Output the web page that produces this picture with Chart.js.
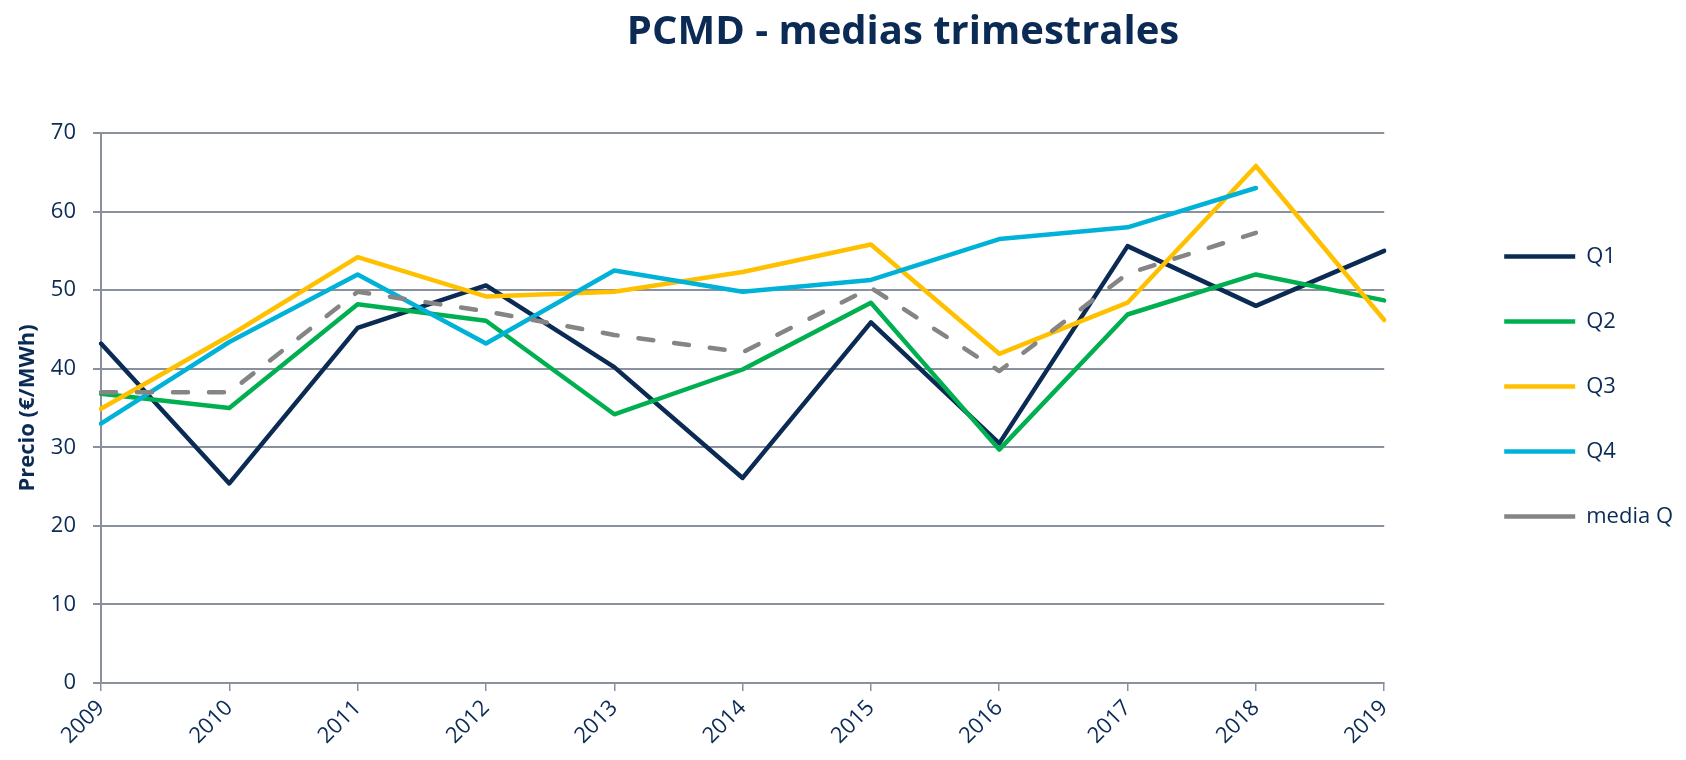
<!DOCTYPE html>
<html>
<head>
<meta charset="utf-8">
<script src="https://cdn.jsdelivr.net/npm/chart.js@4.4.1/dist/chart.umd.min.js"></script>
<style>
  body { margin: 0; background: #fff; }
  #wrap { width: 1686px; height: 760px; position: relative; }
</style>
</head>
<body>
<div id="wrap"><canvas id="pcmd"></canvas></div>
<script>
// years on the x axis
const years = ['2009', '2010', '2011', '2012', '2013', '2014', '2015', '2016', '2017', '2018', '2019'];

// quarterly averages, €/MWh
const q1 = [43.2, 25.4, 45.2, 50.6, 40.2, 26.1, 45.9, 30.5, 55.6, 48.0, 55.0];
const q2 = [36.8, 35.0, 48.2, 46.1, 34.2, 39.9, 48.4, 29.7, 46.9, 52.0, 48.7];
const q3 = [34.9, 44.2, 54.2, 49.2, 49.8, 52.3, 55.8, 41.9, 48.4, 65.8, 46.2];
const q4 = [33.0, 43.4, 52.0, 43.2, 52.5, 49.8, 51.3, 56.5, 58.0, 63.0, null];
const mediaQ = [37.0, 37.0, 49.8, 47.3, 44.3, 42.1, 50.3, 39.7, 52.1, 57.3, null];

const yTicks = [0, 10, 20, 30, 40, 50, 60, 70];

const titleText = 'PCMD - medias trimestrales';
const yTitle = 'Precio (€/MWh)';

const navy = '#0b2b55';
const gridGrey = '#8b919c';
const fontFam = '"Open Sans", "DejaVu Sans", sans-serif';

function serie(label, values, color, order) {
    return {
        label: label,
        data: values,
        borderColor: color,
        backgroundColor: color,
        borderWidth: 4.5,
        pointRadius: 0,
        pointHoverRadius: 0,
        tension: 0,
        fill: false,
        borderJoinStyle: 'round',
        borderCapStyle: 'round',
        order: order
    }
}

const media = serie('media Q', mediaQ, '#858585', 0);
media.borderDash = [15, 21];

// title drawn over the space the empty top axis keeps free
const titlePlugin = {
    id: 'pcmdTitle',
    afterDraw(chart) {
        const ctx = chart.ctx;
        ctx.save();
        ctx.font = 'bold 40px ' + fontFam;
        ctx.fillStyle = navy;
        ctx.textAlign = 'center';
        ctx.textBaseline = 'middle';
        ctx.fillText(titleText, 903, 33);
        ctx.restore();
    }
};

const config = {
    type: 'line',
    data: {
        labels: years,
        datasets: [
            serie('Q1', q1, '#0b2b55', 4),
            serie('Q2', q2, '#00b050', 3),
            serie('Q3', q3, '#ffc000', 2),
            serie('Q4', q4, '#00b2d8', 1),
            media
        ]
    },
    options: {
        responsive: true,
        maintainAspectRatio: false,
        animation: false,
        layout: { padding: { left: 0, right: 3, top: 13, bottom: 0 } },
        plugins: {
            title: { display: false },
            tooltip: { enabled: false },
            legend: {
                position: 'right',
                align: 'center',
                labels: {
                    usePointStyle: true,
                    pointStyle: 'line',
                    pointStyleWidth: 71,
                    padding: 43,
                    color: navy,
                    font: { family: fontFam, size: 22 },
                    sort: (a, b) => a.datasetIndex - b.datasetIndex
                }
            }
        },
        scales: {
            x: {
                type: 'category',
                offset: false,
                grid: {
                    display: true,
                    drawOnChartArea: false,
                    drawTicks: true,
                    tickLength: 8,
                    color: gridGrey,
                    lineWidth: 1.5
                },
                border: { display: true, color: gridGrey, width: 2 },
                ticks: {
                    color: navy,
                    font: { family: fontFam, size: 22 },
                    minRotation: 45,
                    maxRotation: 45,
                    padding: 4,
                    autoSkip: false
                },
                afterFit: s => { s.height = 77; }
            },
            xTop: {
                type: 'category',
                position: 'top',
                display: true,
                grid: { display: false },
                border: { display: false },
                ticks: { display: false },
                afterFit: s => { s.height = 120; }
            },
            y: {
                min: 0,
                max: 70,
                afterBuildTicks: s => { s.ticks = yTicks.map(v => ({ value: v })); },
                grid: {
                    color: gridGrey,
                    lineWidth: 2,
                    tickLength: 8,
                    drawTicks: true
                },
                border: { display: true, color: gridGrey, width: 2 },
                ticks: {
                    color: navy,
                    font: { family: fontFam, size: 22 },
                    padding: 17
                },
                title: {
                    display: true,
                    text: yTitle,
                    color: navy,
                    font: { family: fontFam, size: 22, weight: 'bold' },
                    padding: { top: 15, bottom: 0 }
                },
                afterFit: s => { s.width = 101; }
            },
            yRight: {
                type: 'linear',
                position: 'right',
                display: true,
                grid: { display: false },
                border: { display: false },
                ticks: { display: false },
                afterFit: s => { s.width = 77; }
            }
        }
    },
    plugins: [titlePlugin]
};

new Chart(document.getElementById('pcmd'), config);
</script>
</body>
</html>
